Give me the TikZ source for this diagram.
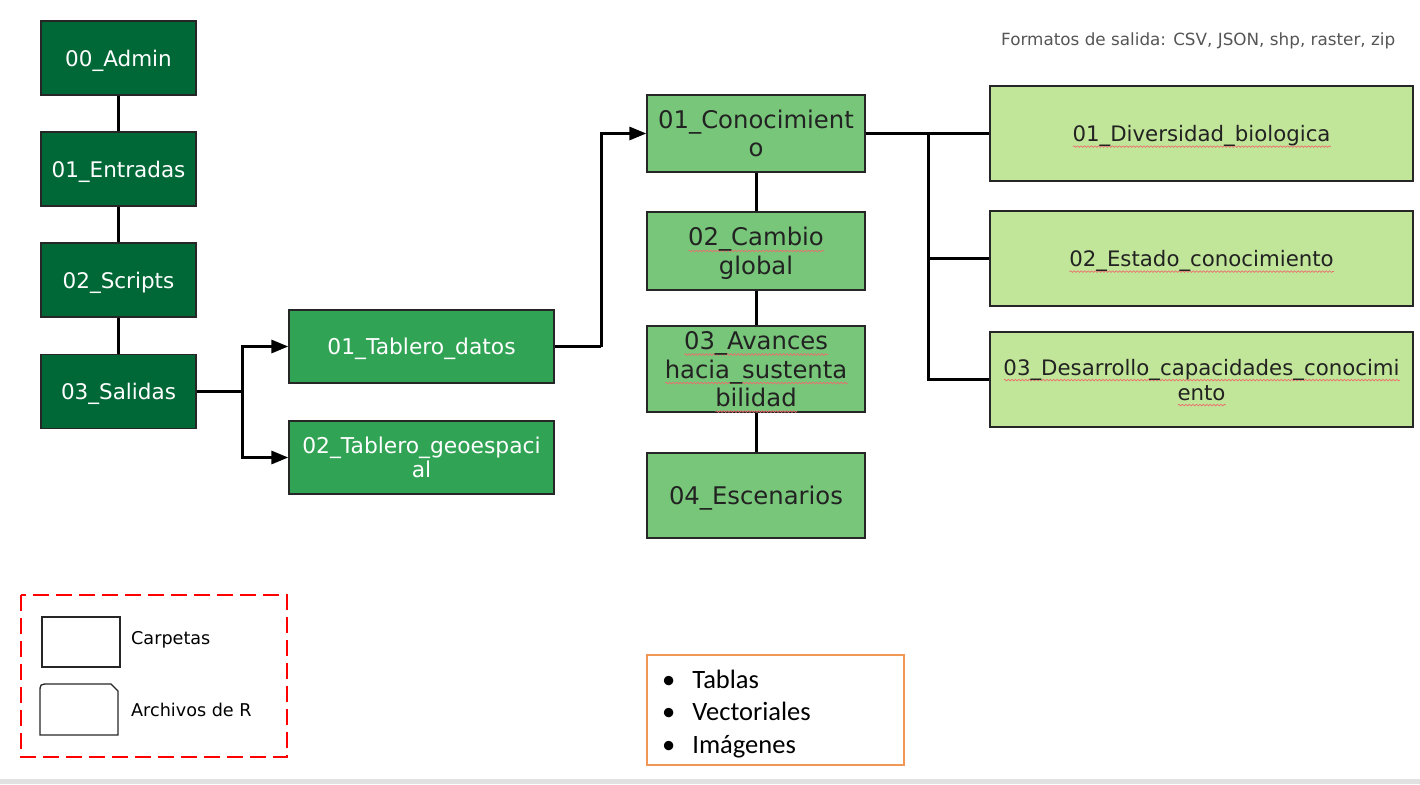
\documentclass[tikz,border=0pt]{standalone}
\usepackage{fontspec}
\setmainfont{DejaVu Sans}
\newfontfamily\carlito{Carlito}
\usetikzlibrary{arrows.meta,decorations.pathmorphing}
\definecolor{gA}{RGB}{0,104,55}
\definecolor{gB}{RGB}{49,163,84}
\definecolor{gC}{RGB}{120,198,121}
\definecolor{gD}{RGB}{194,230,153}
\definecolor{orangeedge}{RGB}{242,150,85}
\definecolor{txtdark}{RGB}{34,34,34}
\definecolor{txtgray}{RGB}{85,85,85}
\definecolor{bandgray}{RGB}{225,225,225}
\definecolor{squigred}{RGB}{235,110,110}
\newsavebox\sqbox
\newlength\sqlen
\newcommand\squig[1]{\begingroup\sbox\sqbox{#1}\setlength\sqlen{\wd\sqbox}%
  \rlap{\tikz[baseline=0pt]{\draw[squigred, line width=0.7pt, decorate, decoration={snake, segment length=3.5pt, amplitude=0.8pt}] (0pt,-5pt) -- (\sqlen,-5pt);}}%
  \usebox\sqbox\endgroup}
\tikzset{
  box/.style={draw=black!85, line width=1.3pt, inner sep=0pt, align=center, text depth=0pt},
  dkbox/.style={box, fill=gA, text=white, minimum width=155pt, minimum height=74pt, font=\fontsize{21.5}{24}\selectfont},
  tbbox/.style={box, fill=gB, text=white, minimum width=265pt, minimum height=73pt, font=\fontsize{21.8}{24}\selectfont},
  mdbox/.style={box, fill=gC, text=txtdark, minimum width=218pt, font=\fontsize{24.3}{28.5}\selectfont},
  ltbox/.style={box, fill=gD, text=txtdark, minimum width=423pt, minimum height=95pt, font=\fontsize{21.3}{25}\selectfont},
  conn/.style={line width=3pt, black},
  arr/.style={conn, -{Triangle[length=17pt,width=13pt]}},
  legtext/.style={anchor=west, inner sep=0pt, font=\fontsize{17.6}{20}\selectfont, text=black},
  bullettext/.style={anchor=base west, inner sep=0pt, font=\carlito\fontsize{26.5}{30}\selectfont, text=black}
}
\begin{document}
\begin{tikzpicture}[x=1pt,y=-1pt]
\useasboundingbox (0,0) rectangle (1420,784);
\fill[bandgray] (0,779) rectangle (1420,784);

% left column
\node[dkbox] (admin) at (118.5,58) {00\_Admin};
\node[dkbox] (entradas) at (118.5,169) {01\_Entradas};
\node[dkbox] (scripts) at (118.5,280) {02\_Scripts};
\node[dkbox] (salidas) at (118.5,391.5) {03\_Salidas};

% tableros
\node[tbbox] (tab1) at (421.5,346.5) {01\_Tablero\_datos};
\node[tbbox] (tab2) at (421.5,457.5) {02\_Tablero\_geoespaci\\al};

% conocimiento column
\node[mdbox, minimum height=77pt] (con1) at (756,133.5) {01\_Conocimient\\o};
\node[mdbox, minimum height=78pt] (con2) at (756,251) {\squig{02\_Cambio}\\global};
\node[mdbox, minimum height=86pt] (con3) at (756,369) {\squig{03\_Avances}\\\squig{hacia\_sustenta}\\\squig{bilidad}};
\node[mdbox, minimum height=85pt] (con4) at (756,495.5) {04\_Escenarios};

% right column
\node[ltbox] (div) at (1201.5,133.5) {\squig{01\_Diversidad\_biologica}};
\node[ltbox] (est) at (1201.5,258.5) {\squig{02\_Estado\_conocimiento}};
\node[ltbox] (des) at (1201.5,379.5) {\squig{03\_Desarrollo\_capacidades\_conocimi}\\\squig{ento}};

% connectors
\draw[conn] (admin) -- (entradas);
\draw[conn] (entradas) -- (scripts);
\draw[conn] (scripts) -- (salidas);
\coordinate (j1) at (242,391.5);
\draw[conn] (salidas.east) -- (j1);
\draw[arr] (j1) |- (tab1.west);
\draw[arr] (j1) |- (tab2.west);
\coordinate (j3) at (601,346.5);
\draw[conn] (tab1.east) -- (j3);
\draw[arr] (j3) |- (con1.west);
\draw[conn] (con1) -- (con2);
\draw[conn] (con2) -- (con3);
\draw[conn] (con3) -- (con4);
\draw[conn] (con1.east) -- (div.west);
\coordinate (j2) at (928,133.5);
\draw[conn] (j2) |- (est.west);
\draw[conn] (j2) |- (des.west);

% output formats
\node[anchor=west, inner sep=0pt, text=txtgray, font=\fontsize{16.8}{19}\selectfont] (fmt) at (1001,41) {Formatos de salida: CSV, JSON, shp, raster, zip};

% legend
\draw[red, line width=2.8pt, dash pattern=on 16pt off 7pt] (21,595) rectangle (287,757);
\node[draw=black!85, line width=1.3pt, minimum width=78pt, minimum height=50pt, inner sep=0pt] (legfold) at (81,642) {};
\draw[black!85, line width=1.3pt] (40,735) -- (40,693) .. controls (40,684) .. (49,684) -- (111,684) -- (118,691) -- (118,735) -- cycle;
\node[legtext] (legc) at (131,640) {Carpetas};
\node[legtext] (legr) at (131,710) {Archivos de R};

% formats box
\node[draw=orangeedge, line width=1.5pt, minimum width=257pt, minimum height=110pt, inner sep=0pt] (types) at (775.5,710) {};
\node[bullettext] (b1) at (662,688) {\textbullet\hspace{17pt}Tablas};
\node[bullettext] (b2) at (662,720.5) {\textbullet\hspace{17pt}Vectoriales};
\node[bullettext] (b3) at (662,753) {\textbullet\hspace{17pt}Imágenes};
\end{tikzpicture}
\end{document}
